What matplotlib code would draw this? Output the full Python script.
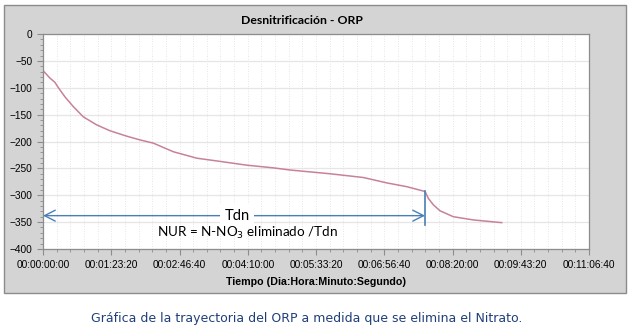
import numpy as np
import matplotlib.pyplot as plt
from matplotlib.patches import Rectangle
from matplotlib.ticker import MultipleLocator, FuncFormatter

# tiempo en segundos y ORP (mV)
tiempo = [0, 73, 513, 880, 1000, 1245, 1612, 2220, 2950, 3930, 4910, 6130, 7106,
          8080, 9545, 11260, 12970, 14920, 16870, 18090, 21025, 23470, 25180,
          26640, 27985, 28230, 28600, 29085, 30060, 31530, 33600]
orp = [-68, -70, -82, -90, -95, -104, -117, -135, -154, -169, -180, -190, -197,
       -203, -219, -231, -237, -244, -249, -253, -260, -267, -277,
       -284, -293, -306, -318, -329, -340, -346, -351]

t_dn = 27985
y_flecha = -338

def fmt_tiempo(s, pos):
    s = int(round(s))
    h = s // 3600
    m = (s % 3600) // 60
    sec = s % 60
    return "00:%02d:%02d:%02d" % (h, m, sec)

plt.rcParams['font.family'] = ['Liberation Sans', 'DejaVu Sans']

fig = plt.figure(figsize=(6.28, 3.28), dpi=100)
fig.patches.append(Rectangle((0.0064, 0.107), 0.9905, 0.878, transform=fig.transFigure,
                             facecolor="#d4d4d4", edgecolor="#8c8c8c", lw=1, zorder=-5))
ax = fig.add_axes([0.0685, 0.241, 0.8695, 0.655])
ax.set_facecolor("white")

ax.plot(tiempo, orp, color="#c8819a", lw=1.1, solid_joinstyle="round")

ax.set_xlim(0, 40000)
ax.set_ylim(-400, 0)
ax.xaxis.set_major_locator(MultipleLocator(5000))
ax.xaxis.set_minor_locator(MultipleLocator(1000))
ax.yaxis.set_major_locator(MultipleLocator(50))
ax.yaxis.set_minor_locator(MultipleLocator(10))
ax.xaxis.set_major_formatter(FuncFormatter(fmt_tiempo))

ax.grid(which="major", axis="y", color="#e6e6e6", lw=0.9)
ax.grid(which="minor", axis="x", color="#dddddd", lw=0.6, ls=(0, (1, 2)))
ax.grid(which="major", axis="x", color="#dddddd", lw=0.6, ls=(0, (1, 2)))
ax.set_axisbelow(True)

for sp in ax.spines.values():
    sp.set_color("#8c8c8c")
    sp.set_linewidth(0.9)
ax.tick_params(which="both", direction="out", colors="#8c8c8c", labelcolor="black", labelsize=7.3)
ax.tick_params(which="major", length=4)
ax.tick_params(which="minor", length=2)
ax.tick_params(axis="x", pad=4)

fig.text(302 / 628, 1 - 20 / 328, "Desnitrificación - ORP", ha="center", va="center",
         fontsize=8.8, fontweight="bold", family=["Lato", "DejaVu Sans"])
ax.set_xlabel("Tiempo (Dia:Hora:Minuto:Segundo)", fontsize=7.7, fontweight="bold", labelpad=5)

# flecha Tdn
azul = "#4a7fb5"
ax.annotate("", xy=(0, y_flecha), xytext=(t_dn, y_flecha),
            arrowprops=dict(arrowstyle="<->,head_length=0.55,head_width=0.28", color=azul,
                            lw=1, mutation_scale=14, shrinkA=0, shrinkB=0))
ax.plot([t_dn, t_dn], [orp[tiempo.index(t_dn)], -356], color=azul, lw=1.2)
ax.text(14200, y_flecha, "Tdn", ha="center", va="center", fontsize=10.5,
        family=["Lato", "DejaVu Sans"], bbox=dict(facecolor="white", edgecolor="none", pad=3))
ax.text(14980, -371, "NUR = N-NO$_3$ eliminado /Tdn", ha="center", va="center", fontsize=9.7,
        family=["Lato", "DejaVu Sans"])

fig.text(307 / 628, 0.03, "Gráfica de la trayectoria del ORP a medida que se elimina el Nitrato.",
         ha="center", va="center", fontsize=9, color="#1f3f7a", family=["DejaVu Sans"])

fig.savefig("out.png", dpi=100, facecolor="white")
